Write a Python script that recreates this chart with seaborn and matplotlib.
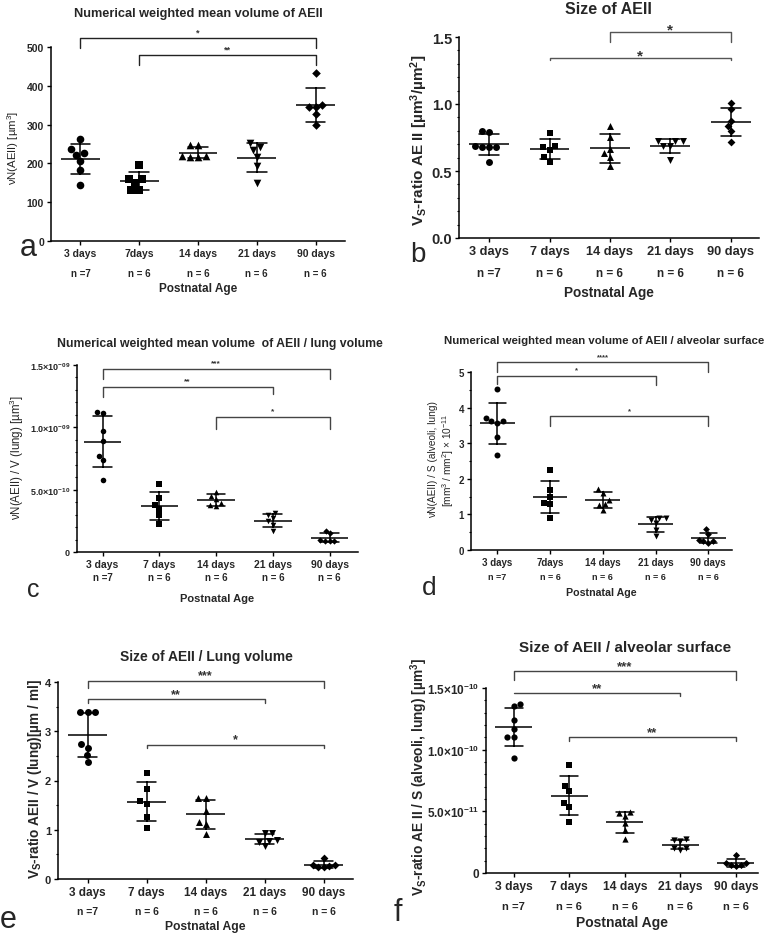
import numpy as np
import pandas as pd
import matplotlib
matplotlib.use("Agg")
import matplotlib.pyplot as plt
from matplotlib.ticker import FixedLocator, MultipleLocator
import seaborn as sns

W, H = 781, 937

ages = ["3 days", "7 days", "14 days", "21 days", "90 days"]
ages_short = ["3 days", "7days", "14 days", "21 days", "90 days"]
n_labels = ["n =7", "n = 6", "n = 6", "n = 6", "n = 6"]
group_markers = ["o", "s", "^", "v", "D"]
marker_scale = [1.0, 1.0, 1.0, 1.0, 0.8]

# a) numerical weighted mean volume of AEII [um^3]
vol_3d = [263, 226, 237, 222, 205, 184, 145]
vol_7d = [197, 149, 160, 160, 132, 132]
vol_14d = [247, 247, 220, 217, 217, 220]
vol_21d = [252, 234, 243, 217, 194, 149]
vol_90d = [432, 350, 346, 346, 327, 299]

# b) Vs-ratio AE II [um^3/um^2]
size_3d = [0.79, 0.80, 0.68, 0.68, 0.69, 0.68, 0.57]
size_7d = [0.78, 0.677, 0.659, 0.689, 0.602, 0.565]
size_14d = [0.838, 0.751, 0.664, 0.634, 0.602, 0.535]
size_21d = [0.721, 0.684, 0.684, 0.721, 0.726, 0.584]
size_90d = [1.008, 0.963, 0.876, 0.838, 0.801, 0.719]

# c) vN(AEII) / V(lung) [um^3]
vl_3d = [1.114e-9, 1.127e-9, 9.72e-10, 8.87e-10, 7.72e-10, 7.38e-10, 5.76e-10]
vl_7d = [5.44e-10, 4.32e-10, 3.78e-10, 3.46e-10, 2.98e-10, 2.24e-10]
vl_14d = [4.85e-10, 4.53e-10, 4.26e-10, 3.94e-10, 3.68e-10, 3.78e-10]
vl_21d = [3.14e-10, 2.72e-10, 2.93e-10, 2.45e-10, 2.18e-10, 1.65e-10]
vl_90d = [1.49e-10, 1.68e-10, 0.90e-10, 0.90e-10, 0.90e-10, 0.96e-10]

# d) vN(AEII) / S(alveoli, lung) [mm^3/mm^2] x 1e-11
vs_3d = [4.53, 3.62, 3.57, 3.62, 3.70, 3.17, 2.67]
vs_7d = [2.24, 1.69, 1.50, 1.32, 1.30, 0.885]
vs_14d = [1.71, 1.60, 1.41, 1.29, 1.26, 1.13]
vs_21d = [0.90, 0.85, 0.885, 0.75, 0.56, 0.39]
vs_90d = [0.58, 0.46, 0.25, 0.21, 0.25, 0.28]

# e) Vs-ratio AEII / V(lung) [um/ml]
sl_3d = [3.39, 3.39, 3.39, 2.75, 2.67, 2.51, 2.37]
sl_7d = [2.16, 1.82, 1.53, 1.58, 1.26, 1.04]
sl_14d = [1.65, 1.65, 1.385, 1.16, 1.115, 0.91]
sl_21d = [0.93, 0.93, 0.78, 0.76, 0.80, 0.675]
sl_90d = [0.43, 0.29, 0.27, 0.235, 0.235, 0.29]

# f) Vs-ratio AE II / S(alveoli, lung) [um^3]
ss_3d = [13.68e-11, 13.57e-11, 12.43e-11, 11.68e-11, 11.06e-11, 11.06e-11, 9.31e-11]
ss_7d = [8.77e-11, 7.04e-11, 6.64e-11, 5.67e-11, 5.39e-11, 4.13e-11]
ss_14d = [4.88e-11, 4.61e-11, 4.94e-11, 4.05e-11, 3.45e-11, 2.78e-11]
ss_21d = [2.64e-11, 2.78e-11, 2.56e-11, 2.02e-11, 1.83e-11, 2.02e-11]
ss_90d = [1.48e-11, 0.83e-11, 0.62e-11, 0.59e-11, 0.62e-11, 0.83e-11]

sns.set_theme(style="ticks")
plt.rcParams["font.family"] = ["Liberation Sans", "DejaVu Sans"]
plt.rcParams["mathtext.default"] = "regular"

fig = plt.figure(figsize=(W / 100, H / 100), dpi=100)


def px_axes(left, top, right, bottom):
    return fig.add_axes([left / W, 1 - bottom / H, (right - left) / W, (bottom - top) / H])


def fig_text(x, y, s, **kw):
    fig.text(x / W, 1 - y / H, s, **kw)


def draw_panel(ax, groups, ms):
    df = pd.DataFrame({"age": np.repeat(ages, [len(g) for g in groups]),
                       "value": np.concatenate(groups)})
    for age, mk, sc in zip(ages, group_markers, marker_scale):
        sub = df[df["age"] == age]
        sns.swarmplot(data=sub, x="age", y="value", order=ages, marker=mk,
                      color="black", size=ms * sc, ax=ax)
    sns.pointplot(data=df, x="age", y="value", order=ages, errorbar="sd",
                  capsize=0.33, linestyle="none", marker="", color="black",
                  err_kws={"linewidth": 1.1}, ax=ax)
    means = df.groupby("age")["value"].mean().reindex(ages)
    pos = np.arange(len(ages))
    ax.hlines(means.values, pos - 0.33, pos + 0.33, color="black", lw=1.1, zorder=4)


def add_brackets(ax, brackets, fs, color, lift):
    for i, j, y, yl, yr, label in brackets:
        ax.plot([i, i, j, j], [yl, y, y, yr], color=color, lw=1, clip_on=False)
        ax.annotate(label, xy=((i + j) / 2, y), xytext=(0, lift), textcoords="offset points",
                    ha="center", va="center", fontsize=fs, fontweight="bold",
                    color="#333333", annotation_clip=False)


panels = [
    dict(box=(51, 48, 345, 242), xlim=(-0.5, 4.5), groups=[vol_3d, vol_7d, vol_14d, vol_21d, vol_90d],
         ms=5.5, xt=ages_short, xfs=7.5, ylim=(0, 500), yticks=[0, 100, 200, 300, 400, 500],
         yticklabels=["0", "100", "200", "300", "400", "500"], minor=None, yfs=7.5,
         nfs=7, n_off=32, lab_off=47, labfs=8.5,
         title="Numerical weighted mean volume of AEII", title_xy=(198, 14), tfs=9.2,
         ylabel="νN(AEII) [µm$^3$]", ylab_xy=(13, 148), ylfs=8.2, ylw="normal",
         letter="a", letter_xy=(28, 248), lfs=22,
         brackets=[(0, 4, 523, 497, 497, "*"), (1, 4, 480, 454, 454, "**")],
         bfs=6.5, bcolor="#222222", lift=4),
    dict(box=(459, 38, 759, 239), xlim=(-0.5, 4.47), groups=[size_3d, size_7d, size_14d, size_21d, size_90d],
         ms=5, xt=ages, xfs=9.2, ylim=(0, 1.5), yticks=[0, 0.5, 1.0, 1.5],
         yticklabels=["0.0", "0.5", "1.0", "1.5"], minor=0.1, yfs=10.5,
         nfs=8.5, n_off=35, lab_off=54, labfs=9.8,
         title="Size of AEII", title_xy=(608, 10), tfs=11.5,
         ylabel="V$_S$-ratio AE II [µm$^3$/µm$^2$]", ylab_xy=(419, 140), ylfs=11, ylw="bold",
         letter="b", letter_xy=(418, 255), lfs=20,
         brackets=[(2, 4, 1.537, 1.46, 1.46, "*"), (1, 4, 1.343, 1.33, 1.33, "*")],
         bfs=11, bcolor="#555555", lift=2),
    dict(box=(77, 366, 358, 553), xlim=(-0.45, 4.5), groups=[vl_3d, vl_7d, vl_14d, vl_21d, vl_90d],
         ms=4, xt=ages, xfs=7.5, ylim=(0, 1.5e-9), yticks=[0, 5e-10, 1e-9, 1.5e-9],
         yticklabels=["0", r"$5.0{\times}10^{-10}$", r"$1.0{\times}10^{-09}$", r"$1.5{\times}10^{-09}$"],
         minor=1e-10, yfs=6.5, nfs=7, n_off=25, lab_off=46, labfs=8,
         title="Numerical weighted mean volume  of AEII / lung volume", title_xy=(220, 344), tfs=8.8,
         ylabel="νN(AEII) / V (lung) [µm$^3$]", ylab_xy=(17, 457), ylfs=8.3, ylw="normal",
         letter="c", letter_xy=(33, 590), lfs=18,
         brackets=[(0, 4, 14.71e-10, 13.9e-10, 13.9e-10, "***"), (0, 3, 13.24e-10, 12.44e-10, 12.7e-10, "**"),
                   (2, 4, 10.84e-10, 9.86e-10, 9.86e-10, "*")],
         bfs=6, bcolor="#444444", lift=4.5),
    dict(box=(471, 373, 732, 551), xlim=(-0.5, 4.45), groups=[vs_3d, vs_7d, vs_14d, vs_21d, vs_90d],
         ms=4.3, xt=ages_short, xfs=7, ylim=(0, 5), yticks=[0, 1, 2, 3, 4, 5],
         yticklabels=["0", "1", "2", "3", "4", "5"], minor=0.5, yfs=7,
         nfs=6.5, n_off=27, lab_off=42, labfs=7.7,
         title="Numerical weighted mean volume of AEII / alveolar surface", title_xy=(604, 341), tfs=8.2,
         ylabel="νN(AEII) / S (alveoli, lung)\n[mm$^3$ / mm$^2$] × 10$^{-11}$", ylab_xy=(442, 460),
         ylfs=7.3, ylw="normal",
         letter="d", letter_xy=(429, 588), lfs=19,
         brackets=[(0, 4, 5.28, 5.0, 5.0, "****"), (0, 3, 4.90, 4.67, 4.64, "*"),
                   (1, 4, 3.76, 3.49, 3.49, "*")],
         bfs=5.5, bcolor="#444444", lift=4),
    dict(box=(58, 683, 353, 880), xlim=(-0.5, 4.5), groups=[sl_3d, sl_7d, sl_14d, sl_21d, sl_90d],
         ms=5, xt=ages, xfs=8.5, ylim=(0, 4), yticks=[0, 1, 2, 3, 4],
         yticklabels=["0", "1", "2", "3", "4"], minor=0.5, yfs=8,
         nfs=7.5, n_off=32, lab_off=47, labfs=8.7,
         title="Size of AEII / Lung volume", title_xy=(206, 657), tfs=10,
         ylabel="V$_S$-ratio AEII / V (lung)[µm / ml]", ylab_xy=(35, 779), ylfs=9.8, ylw="bold",
         letter="e", letter_xy=(8, 920), lfs=22,
         brackets=[(0, 4, 4.03, 3.87, 3.87, "***"), (0, 3, 3.65, 3.58, 3.58, "**"),
                   (1, 4, 2.72, 2.65, 2.65, "*")],
         bfs=9, bcolor="#444444", lift=4),
    dict(box=(486, 689, 758, 874), xlim=(-0.5, 4.4), groups=[ss_3d, ss_7d, ss_14d, ss_21d, ss_90d],
         ms=4.5, xt=ages, xfs=8.7, ylim=(0, 1.5e-10), yticks=[0, 5e-11, 1e-10, 1.5e-10],
         yticklabels=["0", r"$5.0{\times}10^{-11}$", r"$1.0{\times}10^{-10}$", r"$1.5{\times}10^{-10}$"],
         minor=1e-11, yfs=8.5, nfs=8, n_off=33, lab_off=49, labfs=10,
         title="Size of AEII / alveolar surface", title_xy=(625, 648), tfs=11,
         ylabel="V$_S$-ratio AE II / S (alveoli, lung) [µm$^3$]", ylab_xy=(419, 777), ylfs=9.9, ylw="bold",
         letter="f", letter_xy=(398, 913), lfs=22,
         brackets=[(0, 4, 16.35e-11, 15.65e-11, 15.65e-11, "***"), (0, 3, 14.6e-11, 14.6e-11, 14.33e-11, "**"),
                   (1, 4, 11.0e-11, 10.69e-11, 10.69e-11, "**")],
         bfs=9.5, bcolor="#444444", lift=3.5),
]

for p in panels:
    left, top, right, bottom = p["box"]
    ax = px_axes(left, top, right, bottom)
    draw_panel(ax, p["groups"], p["ms"])
    ax.set_xlim(*p["xlim"])
    ax.set_ylim(*p["ylim"])
    ax.set_xlabel("")
    ax.set_ylabel("")
    ax.set_xticks(range(len(ages)))
    ax.set_xticklabels(p["xt"], fontsize=p["xfs"], fontweight="bold")
    ax.yaxis.set_major_locator(FixedLocator(p["yticks"]))
    ax.set_yticklabels(p["yticklabels"], fontsize=p["yfs"], fontweight="bold")
    if p["minor"]:
        ax.yaxis.set_minor_locator(MultipleLocator(p["minor"]))
    ax.tick_params(axis="both", which="major", length=3, width=1, pad=2, color="black")
    ax.tick_params(axis="y", which="minor", length=1.8, width=0.8, color="black")
    for side in ["top", "right"]:
        ax.spines[side].set_visible(False)
    for side in ["left", "bottom"]:
        ax.spines[side].set_linewidth(1.1)
        ax.spines[side].set_color("black")
    for i, lab in enumerate(n_labels):
        ax.annotate(lab, xy=(i, 0), xycoords=("data", "axes fraction"),
                    xytext=(0, -p["n_off"] * 0.72), textcoords="offset points",
                    ha="center", va="center", fontsize=p["nfs"], fontweight="bold")
    ax.annotate("Postnatal Age", xy=(0.5, 0), xycoords="axes fraction",
                xytext=(0, -p["lab_off"] * 0.72), textcoords="offset points",
                ha="center", va="center", fontsize=p["labfs"], fontweight="bold")
    add_brackets(ax, p["brackets"], p["bfs"], p["bcolor"], p["lift"])
    fig_text(*p["title_xy"], p["title"], ha="center", va="center", fontsize=p["tfs"], fontweight="bold")
    fig_text(*p["ylab_xy"], p["ylabel"], ha="center", va="center", rotation=90,
             fontsize=p["ylfs"], fontweight=p["ylw"], multialignment="center")
    fig_text(*p["letter_xy"], p["letter"], ha="center", va="center", fontsize=p["lfs"])

fig.savefig("out.png", dpi=100, facecolor="white")
